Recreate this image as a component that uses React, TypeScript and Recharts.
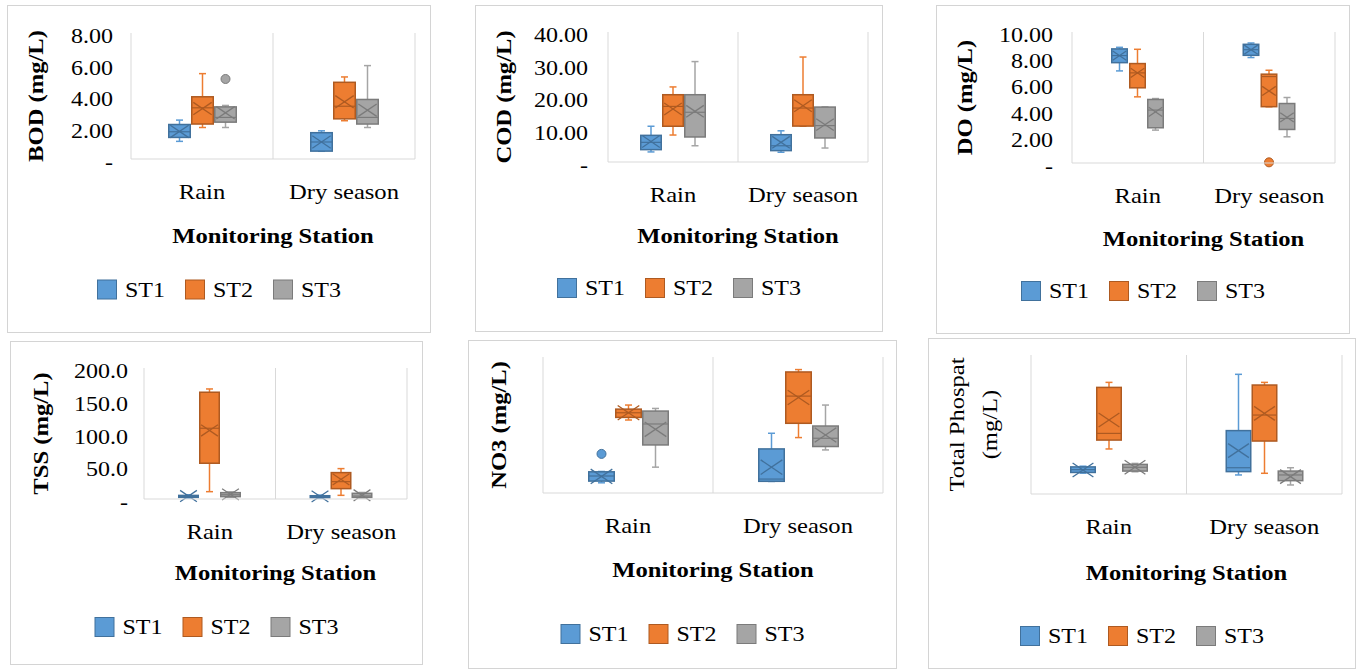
import React from 'react';
import { ComposedChart, Bar, XAxis, YAxis, CartesianGrid } from 'recharts';

// [min, q1, median, q3, max, mean]
type Stats = number[];

const categories = ['Rain', 'Dry season'];
const stations = ['ST1', 'ST2', 'ST3'];
const fills = ['#5B9BD5', '#ED7D31', '#A5A5A5'];
const strokes = ['#41719C', '#AE5A21', '#7B7B7B'];
const xTitle = 'Monitoring Station';

// BOD
const bodTitle = ['BOD (mg/L)'];
const bodTicks = [0, 2, 4, 6, 8];
const bodST1: Stats[] = [[1.12, 1.37, 1.73, 2.19, 2.47, 1.75], [0.49, 0.5, 1.08, 1.67, 1.79, 1.08]];
const bodST2: Stats[] = [[2.0, 2.22, 3.25, 3.95, 5.42, 3.2], [2.43, 2.55, 3.35, 4.87, 5.21, 3.63]];
const bodST3: Stats[] = [[2.0, 2.34, 2.64, 3.31, 3.4, 2.93], [2.0, 2.22, 2.64, 3.78, 5.93, 3.1]];
const bodOutliers: number[][][] = [[[], []], [[], []], [[5.08], []]];

// COD
const codTitle = ['COD (mg/L)'];
const codTicks = [0, 10, 20, 30, 40];
const codST1: Stats[] = [[3.1, 3.8, 6.05, 8.2, 11.0, 6.3], [3.0, 3.5, 5.0, 8.4, 9.6, 6.05]];
const codST2: Stats[] = [[8.3, 11.0, 17.1, 20.7, 23.1, 16.3], [11.0, 11.05, 16.6, 20.7, 32.3, 17.3]];
const codST3: Stats[] = [[5.0, 7.7, 15.3, 20.7, 30.9, 15.6], [4.3, 7.4, 11.2, 16.9, 16.95, 11.5]];
const codOutliers: number[][][] = [[[], []], [[], []], [[], []]];

// DO
const doTitle = ['DO (mg/L)'];
const doTicks = [0, 2, 4, 6, 8, 10];
const doST1: Stats[] = [[7.03, 7.66, 8.2, 8.71, 8.83, 8.2], [8.05, 8.22, 8.65, 9.06, 9.16, 8.65]];
const doST2: Stats[] = [[5.05, 5.74, 6.88, 7.59, 8.68, 6.88], [4.29, 4.3, 6.6, 6.78, 7.08, 5.5]];
const doST3: Stats[] = [[2.51, 2.69, 4.04, 4.85, 4.92, 3.9], [2.0, 2.56, 3.4, 4.54, 5.0, 3.48]];
const doOutliers: number[][][] = [[[], []], [[], [0.05]], [[], []]];

// TSS
const tssTitle = ['TSS (mg/L)'];
const tssTicks = [0, 50, 100, 150, 200];
const tssST1: Stats[] = [[1.5, 2.5, 4.0, 5.5, 6.5, 4.5], [1.0, 2.0, 3.5, 5.0, 6.0, 4.0]];
const tssST2: Stats[] = [[11.2, 54.6, 108, 163, 168, 104.6], [5.6, 15.8, 26.5, 40.3, 46.4, 30]];
const tssST3: Stats[] = [[2.5, 3.6, 6.5, 9.7, 11, 7.1], [1.5, 2.5, 4.5, 8.7, 10, 5.6]];
const tssOutliers: number[][][] = [[[], []], [[], []], [[], []]];

// NO3 (no tick labels on the original)
const no3Title = ['NO3 (mg/L)'];
const no3ST1: Stats[] = [[0.09, 0.105, 0.15, 0.187, 0.19, 0.146], [0.102, 0.103, 0.123, 0.389, 0.527, 0.228]];
const no3ST2: Stats[] = [[0.644, 0.667, 0.708, 0.74, 0.776, 0.708], [0.489, 0.615, 0.855, 1.068, 1.089, 0.843]];
const no3ST3: Stats[] = [[0.228, 0.424, 0.609, 0.723, 0.746, 0.562], [0.38, 0.41, 0.483, 0.591, 0.776, 0.512]];
const no3Outliers: number[][][] = [[[0.345], []], [[], []], [[], []]];

// Total Phospat (no tick labels on the original)
const tpTitle = ['Total Phospat', '(mg/L)'];
const tpST1: Stats[] = [[0.15, 0.155, 0.175, 0.195, 0.2, 0.173], [0.137, 0.161, 0.189, 0.456, 0.861, 0.312]];
const tpST2: Stats[] = [[0.324, 0.388, 0.436, 0.767, 0.803, 0.532], [0.149, 0.381, 0.568, 0.784, 0.803, 0.58]];
const tpST3: Stats[] = [[0.16, 0.165, 0.192, 0.213, 0.22, 0.192], [0.065, 0.096, 0.137, 0.165, 0.189, 0.125]];
const tpOutliers: number[][][] = [[[], []], [[], []], [[], []]];

const FONT = '"Liberation Serif", "Times New Roman", serif';
const SX = 1.2;
const YW = 60;
const XH = 30;
const GRID = '#d9d9d9';

type PanelDef = {
  series: Stats[][];
  outliers: number[][][];
  domain: [number, number];
  ticks: number[] | null;
  decimals: number;
  title: string[];
  bold: boolean;
  // layout (page pixels)
  panel: [number, number, number, number];
  plot: [number, number, number, number]; // left, right, top, bottom
  boxW: number;
  barGap: number;
  tickGap: number;
  titleX: number[];
  xTitleY: number;
  legendY: number;
};

const panels: PanelDef[] = [
  { series: [bodST1, bodST2, bodST3], outliers: bodOutliers, domain: [0, 8], ticks: bodTicks, decimals: 2, title: bodTitle, bold: true,
    panel: [7, 5, 424, 328], plot: [131, 415, 33, 159], boxW: 23, barGap: 0, tickGap: 18, titleX: [36], xTitleY: 243, legendY: 289.5 },
  { series: [codST1, codST2, codST3], outliers: codOutliers, domain: [0, 40], ticks: codTicks, decimals: 2, title: codTitle, bold: true,
    panel: [475, 5, 408, 327], plot: [608, 868, 32, 162], boxW: 22, barGap: 0, tickGap: 20, titleX: [504], xTitleY: 243, legendY: 288 },
  { series: [doST1, doST2, doST3], outliers: doOutliers, domain: [0, 10], ticks: doTicks, decimals: 2, title: doTitle, bold: true,
    panel: [936, 5, 414, 329], plot: [1072, 1335, 32, 163], boxW: 17, barGap: 1, tickGap: 19, titleX: [965], xTitleY: 246, legendY: 291 },
  { series: [tssST1, tssST2, tssST3], outliers: tssOutliers, domain: [0, 200], ticks: tssTicks, decimals: 1, title: tssTitle, bold: true,
    panel: [10, 341, 413, 324], plot: [144, 407, 368, 499], boxW: 21, barGap: 0, tickGap: 16, titleX: [41], xTitleY: 580, legendY: 627 },
  { series: [no3ST1, no3ST2, no3ST3], outliers: no3Outliers, domain: [0, 1.2], ticks: null, decimals: 2, title: no3Title, bold: true,
    panel: [468, 340, 429, 329], plot: [543, 883, 357, 493], boxW: 27, barGap: 0, tickGap: 16, titleX: [499], xTitleY: 577, legendY: 634 },
  { series: [tpST1, tpST2, tpST3], outliers: tpOutliers, domain: [0, 1.0], ticks: null, decimals: 2, title: tpTitle, bold: false,
    panel: [928, 338, 428, 331], plot: [1031, 1342, 355, 494], boxW: 26, barGap: 0, tickGap: 16, titleX: [957, 990], xTitleY: 580, legendY: 636 },
];

function buildRows(series: Stats[][], outliers: number[][][]) {
  return categories.map((cat, ci) => {
    const row: any = { cat };
    stations.forEach((st, si) => {
      const s = series[si][ci];
      const out = outliers[si][ci];
      const all = [s[0], s[4], ...out];
      row[st] = [Math.min(...all), Math.max(...all)];
      row[st + '_s'] = s;
      row[st + '_o'] = out;
    });
    return row;
  });
}

const makeShape = (st: string, si: number) => (props: any) => {
  const { x, y, width, height, payload } = props;
  if (!payload || !payload[st]) return <g />;
  const [lo, hi] = payload[st];
  const s: Stats = payload[st + '_s'];
  const out: number[] = payload[st + '_o'] || [];
  const py = (v: number) => y + (height * (hi - v)) / (hi - lo);
  const cx = x + width / 2;
  const [mn, q1, md, q3, mx, mean] = s;
  const fill = fills[si];
  const stroke = strokes[si];
  const cap = 3.5;
  const a = width * 0.4;
  const b = width * 0.27;
  const my = py(mean);
  const inset = 0.75;
  return (
    <g>
      <line x1={cx} x2={cx} y1={py(mx)} y2={py(q3)} stroke={fill} strokeWidth={1.5} />
      <line x1={cx} x2={cx} y1={py(q1)} y2={py(mn)} stroke={fill} strokeWidth={1.5} />
      <line x1={cx - cap} x2={cx + cap} y1={py(mx)} y2={py(mx)} stroke={fill} strokeWidth={1.5} />
      <line x1={cx - cap} x2={cx + cap} y1={py(mn)} y2={py(mn)} stroke={fill} strokeWidth={1.5} />
      <rect x={x + inset} y={py(q3)} width={width - 2 * inset} height={Math.max(0.5, py(q1) - py(q3))}
        fill={fill} stroke={stroke} strokeWidth={1.5} />
      <line x1={x + inset} x2={x + width - inset} y1={py(md)} y2={py(md)} stroke={stroke} strokeWidth={1.2} />
      <line x1={cx - a} x2={cx + a} y1={my - b} y2={my + b} stroke={stroke} strokeWidth={1.3} />
      <line x1={cx - a} x2={cx + a} y1={my + b} y2={my - b} stroke={stroke} strokeWidth={1.3} />
      {out.map((v, i) => (
        <circle key={i} cx={cx} cy={py(v)} r={4.5} fill={fill} stroke={stroke} strokeWidth={1} />
      ))}
    </g>
  );
};

function YTick(props: any) {
  const { x, y, payload, decimals } = props;
  const v = Number(payload.value);
  const label = v === 0 ? '-' : v.toFixed(decimals);
  return (
    <text transform={`translate(${x} ${y + 10}) scale(${SX} 1)`} textAnchor="end"
      fontFamily={FONT} fontSize={20} fill="#000">{label}</text>
  );
}

function XTick(props: any) {
  const { x, y, payload } = props;
  return (
    <text transform={`translate(${x} ${y + 40}) scale(${SX} 1)`} textAnchor="middle"
      fontFamily={FONT} fontSize={20.5} fill="#000">{payload.value}</text>
  );
}

function Panel({ p }: { p: PanelDef }) {
  const [px, py, pw, ph] = p.panel;
  const [l, r, t, b] = p.plot;
  const margin = {
    top: t - py,
    right: px + pw - r,
    left: l - px - YW,
    bottom: py + ph - b - XH,
  };
  const rows = buildRows(p.series, p.outliers);
  const vx = [l - px, (l + r) / 2 - px, r - px];
  return (
    <div style={{ position: 'absolute', left: px, top: py, width: pw, height: ph }}>
      <ComposedChart width={pw} height={ph} data={rows} margin={margin} barGap={p.barGap}>
        <CartesianGrid horizontal={false} vertical verticalPoints={vx} stroke={GRID} strokeWidth={1} />
        <XAxis dataKey="cat" type="category" height={XH} axisLine={{ stroke: GRID, strokeWidth: 1 }}
          tickLine={false} tickSize={0} tickMargin={0} interval={0}
          tick={(tp: any) => <XTick {...tp} />} />
        <YAxis type="number" width={YW} domain={p.domain} ticks={p.ticks || undefined}
          axisLine={false} tickLine={false} tickSize={0} tickMargin={p.tickGap} interval={0}
          allowDecimals
          tick={p.ticks ? (tp: any) => <YTick {...tp} decimals={p.decimals} /> : false} />
        {stations.map((st, si) => (
          <Bar key={st} dataKey={st} name={st} fill={fills[si]} barSize={p.boxW}
            isAnimationActive={false} shape={makeShape(st, si)} />
        ))}
      </ComposedChart>
    </div>
  );
}

function Overlay() {
  return (
    <svg width={1360} height={671} style={{ position: 'absolute', left: 0, top: 0, pointerEvents: 'none' }}>
      {panels.map((p, i) => {
        const [px, , pw] = p.panel;
        const [l, r, t, b] = p.plot;
        const cy = (t + b) / 2;
        const legendStart = px + pw / 2 - 122;
        return (
          <g key={i}>
            {p.title.map((line, li) => (
              <text key={li} transform={`translate(${p.titleX[li]} ${cy}) rotate(-90) scale(${SX} 1)`}
                textAnchor="middle" dominantBaseline="central" fontFamily={FONT} fontSize={20.5}
                fontWeight={p.bold ? 'bold' : 'normal'} fill="#000">{line}</text>
            ))}
            <text transform={`translate(${(l + r) / 2} ${p.xTitleY}) scale(${SX} 1)`} textAnchor="middle"
              fontFamily={FONT} fontSize={20.5} fontWeight="bold" fill="#000">{xTitle}</text>
            {stations.map((st, si) => {
              const sx = legendStart + si * 88;
              return (
                <g key={st}>
                  <rect x={sx + 0.5} y={p.legendY - 9.5} width={19} height={19} fill={fills[si]} stroke={strokes[si]} strokeWidth={1} />
                  <text transform={`translate(${sx + 28} ${p.legendY + 7}) scale(${SX} 1)`}
                    fontFamily={FONT} fontSize={20} fill="#000">{st}</text>
                </g>
              );
            })}
          </g>
        );
      })}
    </svg>
  );
}

export default function App() {
  return (
    <div style={{ position: 'absolute', left: 0, top: 0, width: 1360, height: 671, background: '#fff', overflow: 'hidden' }}>
      {panels.map((p, i) => (
        <div key={'b' + i} style={{
          position: 'absolute', left: p.panel[0], top: p.panel[1], width: p.panel[2], height: p.panel[3],
          border: '1px solid #d4d4d4', boxSizing: 'border-box',
        }} />
      ))}
      {panels.map((p, i) => <Panel key={i} p={p} />)}
      <Overlay />
    </div>
  );
}
